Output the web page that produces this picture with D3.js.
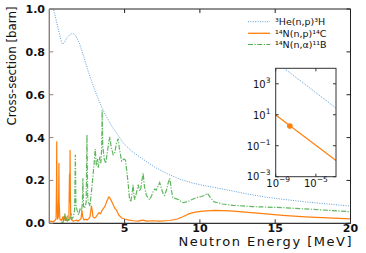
<!DOCTYPE html>
<html><head><meta charset="utf-8">
<script src="https://cdn.jsdelivr.net/npm/d3@7"></script>
<style>body{margin:0;background:#fff}svg{display:block}</style>
</head><body><svg id="c" width="366" height="253"></svg>
<script>
// ---- Data ----
const seriesNames = ["\u00B3He(n,p)\u00B3H", "\u00B9\u2074N(n,p)\u00B9\u2074C", "\u00B9\u2074N(n,\u03B1)\u00B9\u00B9B"];

const heE = [0.15,0.28,0.4,0.55,0.7,0.78,0.84,0.92,1.0,1.2,1.4,1.57,1.75,2.0,2.3,2.6,3.0,3.38,3.7,4.15,4.9,5.5,6.2,7.0,7.8,8.7,9.5,10.2,11.06,12,13.3,14.3,15.5,17,18.5,20];
const heS = [1.05,1.0,0.965,0.92,0.877,0.853,0.84,0.837,0.845,0.868,0.882,0.887,0.876,0.84,0.775,0.705,0.625,0.558,0.51,0.453,0.375,0.335,0.3,0.262,0.232,0.205,0.188,0.177,0.166,0.153,0.135,0.123,0.112,0.1,0.09,0.08];

const npE = [0.02,0.3,0.45,0.48,0.493,0.51,0.55,0.6,0.625,0.639,0.655,0.7,0.8,0.9,0.93,0.96,1.0,1.05,1.1,1.15,1.2,1.3,1.34,1.36,1.38,1.40,1.42,1.45,1.5,1.6,1.7,1.8,1.9,2.0,2.1,2.17,2.22,2.3,2.4,2.5,2.6,2.7,2.8,2.85,2.9,3.0,3.1,3.2,3.3,3.4,3.5,3.6,3.7,3.8,3.9,3.96,4.05,4.15,4.25,4.35,4.46,4.6,4.8,5.0,5.3,5.6,5.9,6.2,6.5,6.9,7.3,7.7,8.0,8.5,8.9,9.3,9.7,10.2,11.0,12,13,14,15.5,17,18.5,20];
const npS = [0.01,0.008,0.02,0.2,0.38,0.12,0.02,0.03,0.15,0.28,0.1,0.02,0.012,0.03,0.015,0.025,0.035,0.015,0.03,0.015,0.01,0.02,0.23,0.1,0.34,0.15,0.04,0.02,0.015,0.01,0.012,0.015,0.01,0.015,0.02,0.06,0.03,0.015,0.02,0.015,0.02,0.03,0.08,0.06,0.03,0.025,0.03,0.04,0.05,0.045,0.06,0.07,0.08,0.1,0.115,0.124,0.115,0.1,0.085,0.07,0.062,0.04,0.025,0.02,0.015,0.012,0.01,0.015,0.01,0.012,0.01,0.012,0.013,0.02,0.032,0.045,0.052,0.057,0.06,0.058,0.052,0.046,0.037,0.03,0.025,0.021];

const naE = [0.8,0.9,1.0,1.04,1.08,1.15,1.2,1.25,1.35,1.45,1.5,1.6,1.68,1.73,1.77,1.85,1.95,2.05,2.15,2.2,2.23,2.27,2.35,2.45,2.5,2.55,2.6,2.7,2.8,2.9,3.0,3.05,3.12,3.2,3.25,3.35,3.42,3.48,3.51,3.55,3.65,3.75,3.85,3.95,4.02,4.1,4.24,4.35,4.45,4.57,4.65,4.8,4.95,5.06,5.15,5.23,5.32,5.41,5.5,5.56,5.62,5.67,5.78,5.9,6.0,6.07,6.15,6.23,6.32,6.45,6.55,6.67,6.8,6.9,7.0,7.1,7.2,7.33,7.45,7.55,7.66,7.8,7.9,8.0,8.1,8.2,8.4,8.6,8.77,8.9,9.3,9.73,10.1,10.3,10.5,10.7,10.95,11.5,12.2,13.5,15.5,17.5,20];
const naS = [0,0.005,0.02,0.045,0.01,0.02,0.03,0.01,0.02,0.04,0.02,0.03,0.06,0.32,0.08,0.06,0.04,0.07,0.06,0.1,0.21,0.08,0.07,0.1,0.414,0.12,0.1,0.08,0.15,0.22,0.3,0.347,0.27,0.3,0.26,0.31,0.28,0.35,0.527,0.36,0.3,0.28,0.33,0.38,0.403,0.36,0.32,0.33,0.37,0.395,0.35,0.29,0.3,0.295,0.24,0.19,0.12,0.1,0.14,0.18,0.13,0.11,0.14,0.18,0.15,0.16,0.2,0.233,0.17,0.13,0.12,0.11,0.13,0.15,0.16,0.155,0.17,0.19,0.16,0.14,0.13,0.16,0.19,0.21,0.16,0.12,0.115,0.11,0.1,0.096,0.105,0.119,0.125,0.13,0.14,0.12,0.1,0.09,0.084,0.078,0.073,0.065,0.054];

// inset (thermal region, log-log)
const insetHeE = [1e-9, 1e-3];
const insetHeS = [26000, 27];
const insetNpE = [1e-9, 1e-3];
const insetNpS = [9.5, 0.011];
const thermalE = [2.53e-8];
const thermalS = [1.85];

const xTicks = [5, 10, 15, 20];
const yTicks = [0.0, 0.2, 0.4, 0.6, 0.8, 1.0];
const insetXTicks = [1e-9, 1e-5];
const insetYTicks = [1e-3, 1e-1, 1e1, 1e3];
const xLabel = "Neutron Energy [MeV]";
const yLabel = "Cross-section [barn]";

// ---- Drawing ----
const colors = ["#5b9bd5", "#ff7f0e", "#4cae4c"];
const svg = d3.select("#c");
const L = 49.3, R = 350.5, T = 9, B = 223.3;
const x = d3.scaleLinear().domain([0, 20]).range([L, R]);
const y = d3.scaleLinear().domain([0, 1]).range([B, T]);

svg.append("clipPath").attr("id", "clip").append("rect")
  .attr("x", L).attr("y", T).attr("width", R - L).attr("height", B - T);

const zip = (a, b) => a.map((v, i) => [v, b[i]]);
const line = d3.line().x(d => x(d[0])).y(d => y(d[1]));
const g = svg.append("g").attr("clip-path", "url(#clip)");

g.append("path").datum(zip(heE, heS)).attr("d", line).attr("fill", "none")
  .attr("stroke", colors[0]).attr("stroke-width", 1).attr("stroke-dasharray", "1,1.4");
g.append("path").datum(zip(npE, npS)).attr("d", line).attr("fill", "none")
  .attr("stroke", colors[1]).attr("stroke-width", 1.2).attr("stroke-linejoin", "round");
g.append("path").datum(zip(naE, naS)).attr("d", line).attr("fill", "none")
  .attr("stroke", colors[2]).attr("stroke-width", 1.2).attr("stroke-opacity", 0.9)
  .attr("stroke-dasharray", "5,1.5,1.2,1.5");

// spines
svg.append("line").attr("x1", L).attr("x2", R).attr("y1", T).attr("y2", T).attr("stroke", "#222").attr("stroke-width", 1);
svg.append("line").attr("x1", R).attr("x2", R).attr("y1", T).attr("y2", B).attr("stroke", "#222").attr("stroke-width", 1);
svg.append("line").attr("x1", L).attr("x2", R).attr("y1", B).attr("y2", B).attr("stroke", "#333").attr("stroke-width", 1.2);
svg.append("line").attr("x1", L).attr("x2", L).attr("y1", T).attr("y2", B).attr("stroke", "#8a7f7a").attr("stroke-width", 1.4);

// ticks (inward)
const tk = 4;
xTicks.forEach(t => {
  svg.append("line").attr("x1", x(t)).attr("x2", x(t)).attr("y1", B).attr("y2", B - tk).attr("stroke", "#333");
  svg.append("line").attr("x1", x(t)).attr("x2", x(t)).attr("y1", T).attr("y2", T + tk).attr("stroke", "#222");
  svg.append("text").attr("x", x(t)).attr("y", 231.5).attr("text-anchor", "middle")
    .attr("font-family", "DejaVu Sans").attr("font-weight", "bold").attr("font-size", 11)
    .attr("fill", "#111").text(t);
});
yTicks.forEach(t => {
  svg.append("line").attr("x1", L).attr("x2", L + tk).attr("y1", y(t)).attr("y2", y(t)).attr("stroke", "#8a7f7a");
  svg.append("line").attr("x1", R).attr("x2", R - tk).attr("y1", y(t)).attr("y2", y(t)).attr("stroke", "#222");
  svg.append("text").attr("x", 45).attr("y", y(t) + 4).attr("text-anchor", "end")
    .attr("font-family", "DejaVu Sans").attr("font-weight", "bold").attr("font-size", 11)
    .attr("fill", "#111").text(t.toFixed(1));
});

// axis labels
svg.append("text").attr("x", 351.5).attr("y", 246).attr("text-anchor", "end")
  .attr("font-family", "DejaVu Sans").attr("font-size", 13).attr("fill", "#111")
  .attr("textLength", 173).attr("lengthAdjust", "spacing").text(xLabel);
svg.append("text").attr("transform", "translate(15.5,6.5) rotate(-90)").attr("text-anchor", "end")
  .attr("font-family", "DejaVu Sans Condensed, DejaVu Sans").attr("font-stretch", "condensed")
  .attr("font-size", 12).attr("fill", "#111")
  .attr("textLength", 119).attr("lengthAdjust", "spacingAndGlyphs").text(yLabel);

// legend
const legY = [21.7, 33.3, 44.5];
const legStyles = [
  {w: 1, dash: "1,1.4"}, {w: 1.3, dash: null}, {w: 1.2, dash: "5,1.5,1.2,1.5"}
];
seriesNames.forEach((n, i) => {
  const ln = svg.append("line").attr("x1", 248).attr("x2", 270).attr("y1", legY[i]).attr("y2", legY[i])
    .attr("stroke", colors[i]).attr("stroke-width", legStyles[i].w);
  if (legStyles[i].dash) ln.attr("stroke-dasharray", legStyles[i].dash);
  svg.append("text").attr("x", 275).attr("y", legY[i] + 3.5)
    .attr("font-family", "DejaVu Sans").attr("font-size", 9.5).attr("fill", "#111").text(n);
});

// inset
const iL = 275.7, iR = 336, iT = 68.3, iB = 176.7;
const ix = d3.scaleLog().domain([1e-9, 1e-3]).range([iL, iR]);
const iy = d3.scaleLog().domain([1e-3, 1e4]).range([iB, iT]);
svg.append("rect").attr("x", iL).attr("y", iT).attr("width", iR - iL).attr("height", iB - iT).attr("fill", "#fff");
svg.append("clipPath").attr("id", "iclip").append("rect")
  .attr("x", iL).attr("y", iT).attr("width", iR - iL).attr("height", iB - iT);
const ig = svg.append("g").attr("clip-path", "url(#iclip)");
const iline = d3.line().x(d => ix(d[0])).y(d => iy(d[1]));
ig.append("path").datum(zip(insetHeE, insetHeS)).attr("d", iline).attr("fill", "none")
  .attr("stroke", colors[0]).attr("stroke-width", 1).attr("stroke-dasharray", "1,1.2");
ig.append("path").datum(zip(insetNpE, insetNpS)).attr("d", iline).attr("fill", "none")
  .attr("stroke", colors[1]).attr("stroke-width", 1.2);
ig.selectAll("circle").data(zip(thermalE, thermalS)).enter().append("circle")
  .attr("cx", d => ix(d[0])).attr("cy", d => iy(d[1])).attr("r", 2.8).attr("fill", colors[1]);
svg.append("rect").attr("x", iL).attr("y", iT).attr("width", iR - iL).attr("height", iB - iT)
  .attr("fill", "none").attr("stroke", "#333").attr("stroke-width", 1);

const sup = (sel, base, exp, fs) => {
  sel.append("tspan").text(base);
  sel.append("tspan").attr("dy", -4.5).attr("font-size", fs).text(exp);
};
insetXTicks.forEach((t, i) => {
  svg.append("line").attr("x1", ix(t)).attr("x2", ix(t)).attr("y1", iB).attr("y2", iB - 3).attr("stroke", "#333");
  svg.append("line").attr("x1", ix(t)).attr("x2", ix(t)).attr("y1", iT).attr("y2", iT + 3).attr("stroke", "#333");
  const tx = svg.append("text").attr("x", ix(t) + (i === 0 ? 2.5 : 0)).attr("y", 186.5).attr("text-anchor", "middle")
    .attr("font-family", "DejaVu Sans").attr("font-size", 10).attr("fill", "#111");
  sup(tx, "10", "\u2212" + Math.round(-Math.log10(t)), 7.5);
});
insetYTicks.forEach(t => {
  svg.append("line").attr("x1", iL).attr("x2", iL + 3).attr("y1", iy(t)).attr("y2", iy(t)).attr("stroke", "#333");
  svg.append("line").attr("x1", iR).attr("x2", iR - 3).attr("y1", iy(t)).attr("y2", iy(t)).attr("stroke", "#333");
  const e = Math.round(Math.log10(t));
  const tx = svg.append("text").attr("x", 270.5).attr("y", iy(t) + (e === -3 ? 3 : 4)).attr("text-anchor", "end")
    .attr("font-family", "DejaVu Sans").attr("font-size", 10).attr("fill", "#111");
  sup(tx, "10", (e < 0 ? "\u2212" : "") + Math.abs(e), 7.5);
});
</script></body></html>
